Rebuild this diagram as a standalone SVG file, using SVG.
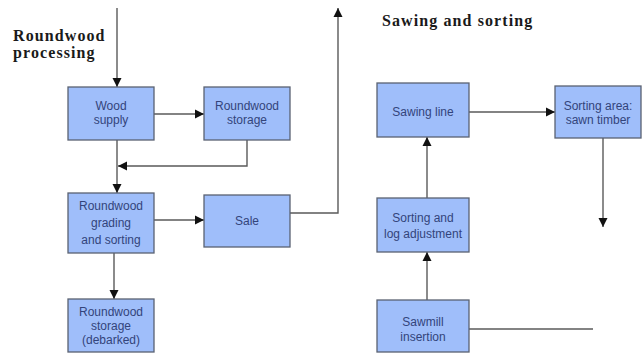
<svg xmlns="http://www.w3.org/2000/svg" width="642" height="353" viewBox="0 0 642 353">
  <defs>
    <style>
      .box { fill: #9fbefa; stroke: #5a6272; stroke-width: 1.3; }
      .lbl { font-family: "Liberation Sans", Arial, sans-serif; font-size: 12px; fill: #33447a; text-anchor: middle; }
      .title { font-family: "Liberation Serif", "Times New Roman", serif; font-size: 16px; font-weight: bold; fill: #1a1a1a; letter-spacing: 1.1px; }
      .wire { fill: none; stroke: #5a5a5a; stroke-width: 1.4; }
      .wire.arrow { marker-end: url(#head); }
    </style>
    <marker id="head" viewBox="0 0 10 10" refX="10" refY="5" markerWidth="6.5" markerHeight="6.5" markerUnits="strokeWidth" orient="auto">
      <path d="M0,0 L10,5 L0,10 z" fill="#111"/>
    </marker>
  </defs>

  <rect width="642" height="353" fill="#ffffff"/>

  <!-- section headings -->
  <text class="title" x="13" y="41">Roundwood</text>
  <text class="title" x="13" y="58">processing</text>
  <text class="title" x="382" y="26">Sawing and sorting</text>

  <!-- connectors -->
  <g id="connectors">
    <path class="wire arrow" d="M117,8 V87"/>
    <path class="wire arrow" d="M154,114 H204"/>
    <path class="wire arrow" d="M247,140 V166 H118"/>
    <path class="wire arrow" d="M117,140 V193"/>
    <path class="wire arrow" d="M154,220 H204"/>
    <path class="wire arrow" d="M114,253 V299"/>
    <path class="wire arrow" d="M290,213 H338 V8"/>
    <path class="wire arrow" d="M469,112 H555"/>
    <path class="wire arrow" d="M427,198 V137"/>
    <path class="wire arrow" d="M427,300 V252"/>
    <path class="wire arrow" d="M603,138 V227"/>
    <path class="wire" d="M469,329 H593"/>
  </g>

  <!-- roundwood processing -->
  <g id="wood-supply">
    <rect class="box" x="68" y="87" width="86" height="53"/>
    <text class="lbl" x="111" y="110">Wood</text>
    <text class="lbl" x="111" y="124">supply</text>
  </g>
  <g id="roundwood-storage">
    <rect class="box" x="204" y="87" width="86" height="53"/>
    <text class="lbl" x="247" y="110">Roundwood</text>
    <text class="lbl" x="247" y="124">storage</text>
  </g>
  <g id="grading-sorting">
    <rect class="box" x="68" y="193" width="86" height="60"/>
    <text class="lbl" x="111" y="210">Roundwood</text>
    <text class="lbl" x="111" y="227">grading</text>
    <text class="lbl" x="111" y="244">and sorting</text>
  </g>
  <g id="sale">
    <rect class="box" x="204" y="195" width="86" height="52"/>
    <text class="lbl" x="247" y="225">Sale</text>
  </g>
  <g id="storage-debarked">
    <rect class="box" x="68" y="299" width="86" height="53"/>
    <text class="lbl" x="111" y="316">Roundwood</text>
    <text class="lbl" x="111" y="330">storage</text>
    <text class="lbl" x="111" y="344">(debarked)</text>
  </g>

  <!-- sawing and sorting -->
  <g id="sawing-line">
    <rect class="box" x="377" y="83" width="92" height="54"/>
    <text class="lbl" x="423" y="116">Sawing line</text>
  </g>
  <g id="sorting-area">
    <rect class="box" x="555" y="86" width="86" height="52"/>
    <text class="lbl" x="598" y="110">Sorting area:</text>
    <text class="lbl" x="598" y="124">sawn timber</text>
  </g>
  <g id="log-adjustment">
    <rect class="box" x="377" y="198" width="92" height="54"/>
    <text class="lbl" x="423" y="222">Sorting and</text>
    <text class="lbl" x="423" y="238">log adjustment</text>
  </g>
  <g id="sawmill-insertion">
    <rect class="box" x="377" y="300" width="92" height="52"/>
    <text class="lbl" x="423" y="326">Sawmill</text>
    <text class="lbl" x="423" y="341">insertion</text>
  </g>
</svg>
